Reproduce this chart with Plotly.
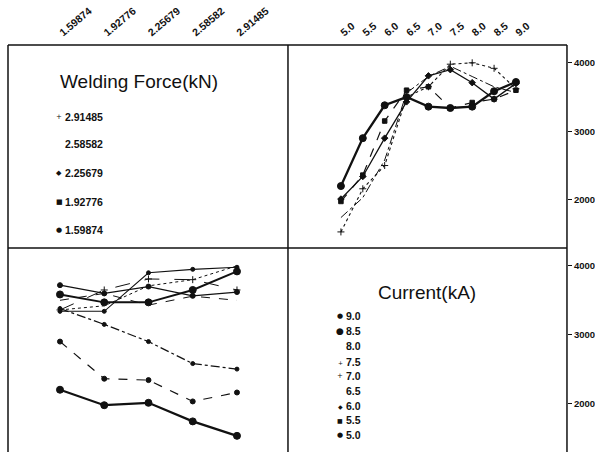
import plotly.graph_objects as go

# ---- data ----
forces = [1.59874, 1.92776, 2.25679, 2.58582, 2.91485]
force_labels = ["1.59874", "1.92776", "2.25679", "2.58582", "2.91485"]
currents = [5.0, 5.5, 6.0, 6.5, 7.0, 7.5, 8.0, 8.5, 9.0]
current_labels = ["5.0", "5.5", "6.0", "6.5", "7.0", "7.5", "8.0", "8.5", "9.0"]

# mean response for each welding force (rows) at each current (columns)
resp_f1 = [2200, 2900, 3380, 3500, 3360, 3340, 3360, 3585, 3720]
resp_f2 = [1975, 2360, 3150, 3600, 3650, 3340, 3420, 3470, 3600]
resp_f3 = [2010, 2340, 2900, 3430, 3810, 3900, 3710, 3470, 3700]
resp_f4 = [1740, 2030, 2580, 3560, 3800, 3950, 3800, 3650, 3565]
resp_f5 = [1530, 2160, 2500, 3500, 3650, 3980, 4000, 3920, 3620]
resp = [resp_f1, resp_f2, resp_f3, resp_f4, resp_f5]

y_ticks = [2000, 3000, 4000]

# ---- styles ----
INK = "#111111"
force_styles = [
    dict(dash="solid", width=2.3, symbol="circle", size=7),
    dict(dash="dash", width=1.2, symbol="square", size=4.5),
    dict(dash="solid", width=1.3, symbol="diamond", size=5),
    dict(dash="dashdot", width=1.0, symbol=None, size=0),
    dict(dash="dot", width=1.1, symbol="cross-thin", size=5),
]
current_styles = [
    dict(dash="solid", width=2.3, symbol="circle", size=7),
    dict(dash="dash", width=1.2, symbol="circle", size=5),
    dict(dash="dashdot", width=1.2, symbol="circle", size=4),
    dict(dash="dash", width=1.0, symbol=None, size=0),
    dict(dash="longdash", width=1.0, symbol="cross-thin", size=5),
    dict(dash="solid", width=1.1, symbol="circle", size=4),
    dict(dash="dot", width=1.0, symbol=None, size=0),
    dict(dash="solid", width=2.0, symbol="circle", size=7),
    dict(dash="solid", width=1.3, symbol="circle", size=5),
]

fig = go.Figure()

# empty trace so the top-left panel (which carries the force tick labels) exists
fig.add_trace(go.Scatter(x=forces, y=[None] * len(forces), mode="markers",
                         xaxis="x", yaxis="y", showlegend=False, hoverinfo="skip"))

# top-right: response vs current, one line per force
for i, f in enumerate(forces):
    st = force_styles[i]
    mode = "lines+markers" if st["symbol"] else "lines"
    mk = dict(symbol=st["symbol"], size=st["size"], color=INK,
              line=dict(color=INK, width=1)) if st["symbol"] else None
    fig.add_trace(go.Scatter(x=currents, y=resp[i], mode=mode,
                             line=dict(color=INK, width=st["width"], dash=st["dash"]),
                             marker=mk, xaxis="x2", yaxis="y2", showlegend=False))

# bottom-left: response vs force, one line per current
for j, c in enumerate(currents):
    st = current_styles[j]
    mode = "lines+markers" if st["symbol"] else "lines"
    mk = dict(symbol=st["symbol"], size=st["size"], color=INK,
              line=dict(color=INK, width=1)) if st["symbol"] else None
    fig.add_trace(go.Scatter(x=forces, y=[resp[i][j] for i in range(len(forces))],
                             mode=mode,
                             line=dict(color=INK, width=st["width"], dash=st["dash"]),
                             marker=mk, xaxis="x3", yaxis="y3", showlegend=False))

# empty trace for the bottom-right panel
fig.add_trace(go.Scatter(x=currents, y=[None] * len(currents), mode="markers",
                         xaxis="x4", yaxis="y4", showlegend=False, hoverinfo="skip"))

# ---- layout ----
XL = [0.01345, 0.4840]
XR = [0.4840, 0.9529]
YT = [0.4513, 0.9004]
YB = [0.0, 0.4513]
YR = [1295, 4260]
FR = [1.2121, 3.2941]
CR = [3.79, 10.166]

tickfont = dict(family="Liberation Sans, Arial", size=10.5, color=INK, weight="bold")
ytickfont = dict(family="Liberation Sans, Arial", size=9.5, color=INK, weight="bold")
hidden = dict(showgrid=False, zeroline=False, showline=False, showticklabels=False, ticks="")

fig.update_layout(
    width=595, height=452,
    margin=dict(l=0, r=0, t=0, b=0),
    paper_bgcolor="white", plot_bgcolor="white",
    font=dict(family="Liberation Sans, Arial", color=INK),
    xaxis=dict(domain=XL, anchor="y", range=FR, side="top",
               tickvals=forces, ticktext=force_labels, tickangle=-40,
               tickfont=tickfont, ticks="", showgrid=False, zeroline=False,
               showline=False, showticklabels=True, ticklabelstandoff=4),
    yaxis=dict(domain=YT, anchor="x", range=YR, **hidden),
    xaxis2=dict(domain=XR, anchor="y2", range=CR, side="top",
                tickvals=currents, ticktext=current_labels, tickangle=-40,
                tickfont=tickfont, ticks="", showgrid=False, zeroline=False,
                showline=False, ticklabelstandoff=4),
    yaxis2=dict(domain=YT, anchor="x2", range=YR, side="right",
                tickvals=y_ticks, tickfont=ytickfont,
                ticks="outside", ticklen=4, tickcolor=INK, showgrid=False,
                zeroline=False, showline=False),
    xaxis3=dict(domain=XL, anchor="y3", range=FR, **hidden),
    yaxis3=dict(domain=YB, anchor="x3", range=YR, **hidden),
    xaxis4=dict(domain=XR, anchor="y4", range=CR, **hidden),
    yaxis4=dict(domain=YB, anchor="x4", range=YR, side="right",
                tickvals=y_ticks, tickfont=ytickfont,
                ticks="outside", ticklen=4, tickcolor=INK, showgrid=False,
                zeroline=False, showline=False),
)

# frame lines
frame = dict(color=INK, width=1.5)
shapes = [
    dict(type="line", xref="paper", yref="paper", x0=XL[0], x1=XR[1], y0=YT[1], y1=YT[1], line=frame),
    dict(type="line", xref="paper", yref="paper", x0=XL[0], x1=XR[1], y0=YT[0], y1=YT[0], line=frame),
    dict(type="line", xref="paper", yref="paper", x0=XL[0], x1=XL[0], y0=0, y1=YT[1], line=frame),
    dict(type="line", xref="paper", yref="paper", x0=XL[1], x1=XL[1], y0=0, y1=YT[1], line=frame),
    dict(type="line", xref="paper", yref="paper", x0=XR[1], x1=XR[1], y0=0, y1=YT[1], line=frame),
]
fig.update_layout(shapes=shapes)

# in-panel legends
W, H = 595.0, 452.0
def px(x, y):
    return x / W, 1 - y / H

anns = []
tx, ty = px(139, 82)
anns.append(dict(x=tx, y=ty, xref="paper", yref="paper", text="Welding Force(kN)",
                 showarrow=False, xanchor="center", yanchor="middle",
                 font=dict(family="Liberation Sans, Arial", size=19, color=INK)))
force_glyphs = ["●", "■", "◆", "", "+"]
force_leg_y = [230, 202, 173, 144, 117]
for lab, g, yy in zip(force_labels, force_glyphs, force_leg_y):
    gx, gy = px(59, yy)
    if g:
        anns.append(dict(x=gx, y=gy, xref="paper", yref="paper", text=g, showarrow=False,
                         xanchor="center", yanchor="middle",
                         font=dict(family="DejaVu Sans", size=7, color=INK)))
    lx, ly = px(63, yy)
    anns.append(dict(x=lx, y=ly, xref="paper", yref="paper", text=lab, showarrow=False,
                     xanchor="left", yanchor="middle",
                     font=dict(family="Liberation Sans, Arial", size=10.5, color=INK, weight="bold")))

tx, ty = px(427, 292)
anns.append(dict(x=tx, y=ty, xref="paper", yref="paper", text="Current(kA)",
                 showarrow=False, xanchor="center", yanchor="middle",
                 font=dict(family="Liberation Sans, Arial", size=19, color=INK)))
current_glyphs = ["●", "■", "◆", "", "+", "+", "", "●", "●"]
current_glyph_size = [7, 6, 6, 7, 7, 6, 7, 9, 7]
current_leg_y = [435, 420, 406, 391, 376, 362, 346, 331, 316]
for lab, g, gs, yy in zip(current_labels, current_glyphs, current_glyph_size, current_leg_y):
    gx, gy = px(340, yy)
    if g:
        anns.append(dict(x=gx, y=gy, xref="paper", yref="paper", text=g, showarrow=False,
                         xanchor="center", yanchor="middle",
                         font=dict(family="DejaVu Sans", size=gs, color=INK)))
    lx, ly = px(344, yy)
    anns.append(dict(x=lx, y=ly, xref="paper", yref="paper", text=lab, showarrow=False,
                     xanchor="left", yanchor="middle",
                     font=dict(family="Liberation Sans, Arial", size=10.5, color=INK, weight="bold")))

fig.update_layout(annotations=anns)

fig.write_html("out.html")
